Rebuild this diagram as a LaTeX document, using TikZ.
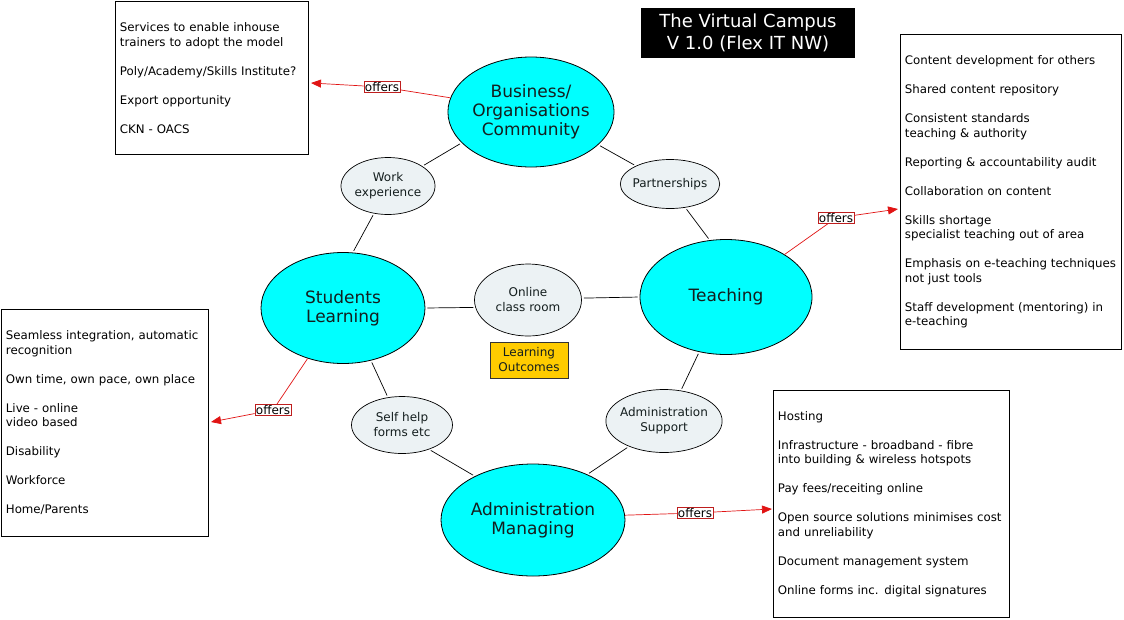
\documentclass[tikz,border=0pt]{standalone}
\usepackage{fontspec}
\setmainfont{DejaVu Sans}
\usetikzlibrary{shapes.geometric,arrows.meta,calc}
\definecolor{aqua}{RGB}{0,255,255}
\definecolor{paleblue}{RGB}{236,242,244}
\definecolor{gold}{RGB}{255,204,0}
\definecolor{offred}{RGB}{225,20,20}
\definecolor{labred}{RGB}{190,30,30}
\definecolor{inkdark}{RGB}{20,30,30}
\begin{document}
\begin{tikzpicture}[x=1pt,y=-1pt,
  big/.style={ellipse,draw,fill=aqua,inner sep=0pt,align=center,text=inkdark,font=\fontsize{17}{19}\selectfont,line width=0.8pt},
  small/.style={ellipse,draw,fill=paleblue,inner sep=0pt,align=center,text=inkdark,font=\fontsize{12}{15}\selectfont,line width=0.7pt},
  infobox/.style={rectangle,draw,line width=0.8pt,inner xsep=4.5pt,inner ysep=0pt,align=left,anchor=north west,font=\fontsize{11.8}{14.5}\selectfont},
  link/.style={line width=0.7pt,shorten <=2pt,shorten >=2pt},
  offer/.style={draw=labred,fill=white,inner sep=1pt,font=\fontsize{12}{13}\selectfont,line width=0.6pt},
  offerline/.style={draw=offred,line width=0.7pt},
  offerarrow/.style={offerline,-{Triangle[length=10pt,width=8pt]}}
]
\useasboundingbox[fill=white] (0,0) rectangle (1124,619);

% title
\node[fill=black,text=white,minimum width=214,minimum height=50,inner sep=0pt,align=center,font=\fontsize{18}{22}\selectfont] (title) at (748,33) {The Virtual Campus\\V 1.0 (Flex IT NW)};

% info boxes
\node[infobox,minimum width=193,minimum height=153,text width=184] (tl) at (115,1)
 {Services to enable inhouse\\trainers to adopt the model\\[14.5pt]Poly/Academy/Skills Institute?\\[14.5pt]Export opportunity\\[14.5pt]CKN - OACS};
\node[infobox,minimum width=221,minimum height=315,text width=212] (tr) at (900,34)
 {Content development for others\\[14.5pt]Shared content repository\\[14.5pt]Consistent standards\\teaching \& authority\\[14.5pt]Reporting \& accountability audit\\[14.5pt]Collaboration on content\\[14.5pt]Skills shortage\\specialist teaching out of area\\[14.5pt]Emphasis on e-teaching techniques\\not just tools\\[14.5pt]Staff development (mentoring) in\\e-teaching};
\node[infobox,minimum width=207,minimum height=227,text width=198] (lb) at (1,309)
 {Seamless integration, automatic\\recognition\\[14.5pt]Own time, own pace, own place\\[14.5pt]Live - online\\video based\\[14.5pt]Disability\\[14.5pt]Workforce\\[14.5pt]Home/Parents};
\node[infobox,minimum width=236,minimum height=227,text width=227] (br) at (773,390)
 {Hosting\\[14.5pt]Infrastructure - broadband - fibre\\into building \& wireless hotspots\\[14.5pt]Pay fees/receiting online\\[14.5pt]Open source solutions minimises cost\\and unreliability\\[14.5pt]Document management system\\[14.5pt]Online forms inc. digital signatures};

% main ellipses
\node[big,minimum width=164,minimum height=110] (bus) at (531,112) {Business/\\Organisations\\Community};
\node[big,minimum width=172,minimum height=115] (teach) at (726,297) {Teaching};
\node[big,minimum width=164,minimum height=111] (stud) at (343,308) {Students\\Learning};
\node[big,minimum width=184,minimum height=112] (adm) at (533,520) {Administration\\Managing};

% small ellipses
\node[small,minimum width=92,minimum height=57] (work) at (388,186) {Work\\experience};
\node[small,minimum width=99,minimum height=49,inner xsep=-2.2pt] (part) at (670,184) {Partnerships};
\node[small,minimum width=107,minimum height=72] (online) at (528,300) {Online\\class room};
\node[small,minimum width=101,minimum height=57] (self) at (402,425) {Self help\\forms etc};
\node[small,minimum width=116,minimum height=63,inner xsep=-2.8pt] (asup) at (664,421) {Administration\\Support};

\node[draw=black!80,fill=gold,minimum width=78,minimum height=36,inner sep=0pt,align=center,text=inkdark,font=\fontsize{12}{15}\selectfont,line width=0.7pt] (lo) at (529,360) {Learning\\Outcomes};

% links
\draw[link] (bus.204) -- (work.30);
\draw[link] (work.243) -- (stud.80);
\draw[link] (bus.334) -- (part.152);
\draw[link] (part.303) -- (teach.106);
\draw[link] (stud.0) -- (online.188);
\draw[link] (online.2) -- (teach.180);
\draw[link] (stud.298) -- (self.117);
\draw[link] (self.318) -- (adm.143);
\draw[link] (adm.40) -- (asup.216);
\draw[link] (asup.61) -- (teach.244);

% offers
\coordinate (c1) at (311,83);
\coordinate (c2) at (898,209);
\coordinate (c3) at (211,422);
\coordinate (c4) at (772,509);
\node[offer] (o1) at (382,87) {offers};
\node[offer] (o2) at (836,218) {offers};
\node[offer] (o3) at (273,410) {offers};
\node[offer] (o4) at (695,513) {offers};
\draw[offerline] (bus.170) -- (o1);
\draw[offerarrow] (o1) -- (c1);
\draw[offerline] (teach.36) -- (o2);
\draw[offerarrow] (o2) -- (c2);
\draw[offerline] (stud.235) -- (o3);
\draw[offerarrow] (o3) -- (c3);
\draw[offerline] (adm.3) -- (o4);
\draw[offerarrow] (o4) -- (c4);
\end{tikzpicture}
\end{document}
